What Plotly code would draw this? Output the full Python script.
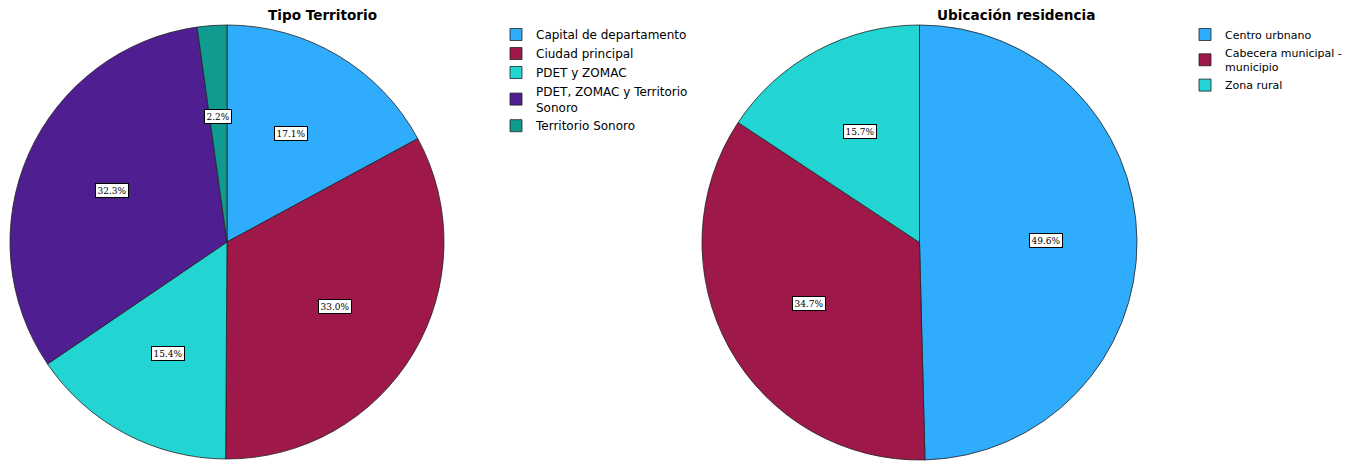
import math
import plotly.graph_objects as go

# the page has an 8px body margin, so the figure is drawn 8px in from the corner
OFF = 8
FW, FH = 1356, 458

# Tipo Territorio
territorio_labels = ["Capital de departamento", "Ciudad principal", "PDET y ZOMAC",
                     "PDET, ZOMAC y Territorio<br>Sonoro", "Territorio Sonoro"]
territorio_values = [17.1, 33.0, 15.4, 32.3, 2.2]
territorio_colors = ["#30acfd", "#9f184a", "#22d5d2", "#4f1f92", "#109b90"]

# Ubicación residencia
residencia_labels = ["Centro urbnano", "Cabecera municipal -<br>municipio", "Zona rural"]
residencia_values = [49.6, 34.7, 15.7]
residencia_colors = ["#30acfd", "#9f184a", "#22d5d2"]


def px(x):
    return (x - OFF) / FW


def py(y):
    return 1 - (y - OFF) / FH


# pie boxes in page pixels (left, top, size)
left_box = (10, 25, 434)
right_box = (702, 25, 435)


def domain(box):
    x0, y0, s = box
    return dict(x=[px(x0), px(x0 + s)], y=[py(y0 + s), py(y0)])


def pct_labels(values, box, frac=0.58):
    x0, y0, s = box
    cx, cy, r = x0 + s / 2, y0 + s / 2, s / 2
    total = sum(values)
    out = []
    start = 0
    for v in values:
        mid = (start + v / 2) / total * 2 * math.pi
        start += v
        out.append(dict(
            x=px(cx + math.sin(mid) * r * frac), y=py(cy - math.cos(mid) * r * frac),
            xref="paper", yref="paper", xanchor="center", yanchor="middle",
            text=f"{v:.1f}%", showarrow=False,
            font=dict(family="DejaVu Serif", size=9, color="black"),
            bgcolor="white", bordercolor="black", borderwidth=1, borderpad=1.5,
        ))
    return out


fig = go.Figure()

fig.add_trace(go.Pie(
    labels=territorio_labels, values=territorio_values,
    marker=dict(colors=territorio_colors, line=dict(color="#222222", width=0.8)),
    sort=False, direction="clockwise", rotation=0,
    textinfo="none", hoverinfo="label+percent",
    domain=domain(left_box), legend="legend",
))

fig.add_trace(go.Pie(
    labels=residencia_labels, values=residencia_values,
    marker=dict(colors=residencia_colors, line=dict(color="#222222", width=0.8)),
    sort=False, direction="clockwise", rotation=0,
    textinfo="none", hoverinfo="label+percent",
    domain=domain(right_box), legend="legend2",
))

title_font = dict(family="DejaVu Sans", size=13.6, color="black")
annotations = pct_labels(territorio_values, left_box) + pct_labels(residencia_values, right_box)
annotations += [
    dict(x=px(322), y=py(15), xref="paper", yref="paper", xanchor="center", yanchor="middle",
         text="<b>Tipo Territorio</b>", showarrow=False, font=title_font),
    dict(x=px(1016), y=py(15), xref="paper", yref="paper", xanchor="center", yanchor="middle",
         text="<b>Ubicación residencia</b>", showarrow=False, font=title_font),
]

fig.update_layout(
    width=FW, height=FH,
    margin=dict(l=0, r=0, t=0, b=0),
    paper_bgcolor="white", plot_bgcolor="white",
    annotations=annotations,
    legend=dict(x=px(496), y=py(20), xanchor="left", yanchor="top",
                font=dict(family="DejaVu Sans", size=12, color="black"),
                tracegroupgap=0, itemwidth=30),
    legend2=dict(x=px(1185), y=py(20), xanchor="left", yanchor="top",
                 font=dict(family="DejaVu Sans", size=11, color="black"),
                 tracegroupgap=0, itemwidth=30),
)

fig.write_html("out.html")
